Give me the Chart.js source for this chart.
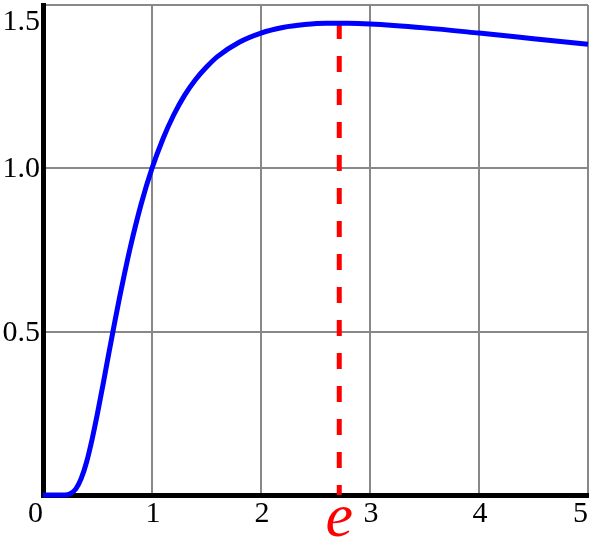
<!DOCTYPE html>
<html>
<head>
<meta charset="utf-8">
<script src="https://cdn.jsdelivr.net/npm/chart.js@4/dist/chart.umd.min.js"></script>
<style>
  html, body { margin: 0; padding: 0; background: #fff; }
  #wrap { width: 600px; height: 545px; }
</style>
</head>
<body>
<div id="wrap"><canvas id="curveChart"></canvas></div>
<script>
// values
const xValues = [0, 0.1, 0.2, 0.25, 0.3, 0.35, 0.4, 0.45, 0.5, 0.55, 0.6, 0.65, 0.7, 0.75, 0.8, 0.9,
    1.0, 1.1, 1.2, 1.3, 1.4, 1.5, 1.6, 1.8, 2.0, 2.2, 2.4, 2.6, 2.8, 3.0, 3.5, 4.0, 4.5, 5.0];
const yValues = [0, 0, 0.0003, 0.004, 0.018, 0.05, 0.101, 0.17, 0.25, 0.337, 0.427, 0.515, 0.601, 0.681, 0.757, 0.89,
    1.0, 1.09, 1.164, 1.224, 1.272, 1.31, 1.342, 1.386, 1.414, 1.431, 1.44, 1.444, 1.444, 1.442, 1.430, 1.414, 1.397, 1.380];
const xTicks = [0, 1, 2, 3, 4, 5];
const yTicks = [0.5, 1.0, 1.5];
const eX = 2.718;
const eY = 1.4447;
const eLabel = 'e';

const labelFont = '30px "Liberation Serif", "DejaVu Serif", serif';

// tick labels and the "e" mark, placed through the chart's own scales
const labelPlugin = {
    id: 'labels',
    afterDraw(chart) {
        const ctx = chart.ctx;
        const xs = chart.scales.x;
        const ys = chart.scales.y;
        const area = chart.chartArea;
        ctx.save();
        ctx.fillStyle = '#000';
        ctx.font = labelFont;
        ctx.textBaseline = 'middle';

        ctx.textAlign = 'right';
        yTicks.forEach(v => {
            let py = ys.getPixelForValue(v);
            if (py < area.top + 16) py = area.top + 16;
            ctx.fillText(v.toFixed(1), area.left - 3, py + 1);
        });

        xTicks.forEach((v, i) => {
            const px = xs.getPixelForValue(v);
            if (i === 0 || i === xTicks.length - 1) {
                ctx.textAlign = 'right';
                ctx.fillText(String(v), px, 514);
            } else {
                ctx.textAlign = 'center';
                ctx.fillText(String(v), px + 1, 514);
            }
        });

        ctx.fillStyle = '#ff0000';
        ctx.font = 'italic 62px "Liberation Serif", "DejaVu Serif", serif';
        ctx.textAlign = 'center';
        ctx.textBaseline = 'alphabetic';
        ctx.fillText(eLabel, xs.getPixelForValue(eX), 536);
        ctx.restore();
    }
};

new Chart(document.getElementById('curveChart'), {
    type: 'line',
    data: {
        datasets: [{
            data: xValues.map((x, i) => ({ x: x, y: yValues[i] })),
            borderColor: '#0000ff',
            borderWidth: 5,
            pointRadius: 0,
            cubicInterpolationMode: 'monotone',
            clip: false
        }, {
            data: [{ x: eX, y: eY }, { x: eX, y: 0 }],
            borderColor: '#ff0000',
            borderWidth: 5,
            borderDash: [16, 17],
            pointRadius: 0,
            clip: false
        }]
    },
    options: {
        responsive: true,
        maintainAspectRatio: false,
        animation: false,
        layout: { padding: { left: 43, top: 5, right: 12, bottom: 50 } },
        plugins: { legend: { display: false }, tooltip: { enabled: false } },
        scales: {
            x: {
                type: 'linear',
                min: 0,
                max: 5,
                ticks: { stepSize: 1, display: false },
                grid: { color: '#888', lineWidth: 2, drawTicks: false },
                border: { display: true, color: '#000', width: 5 }
            },
            y: {
                min: 0,
                max: 1.5,
                ticks: { stepSize: 0.5, display: false },
                grid: { color: '#888', lineWidth: 2, drawTicks: false },
                border: { display: true, color: '#000', width: 5 }
            }
        }
    },
    plugins: [labelPlugin]
});
</script>
</body>
</html>
